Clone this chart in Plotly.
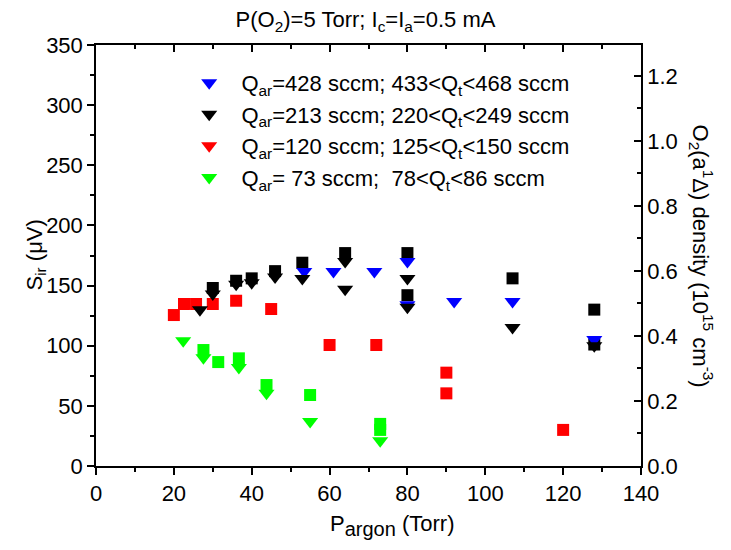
import plotly.graph_objects as go

# S_ir signal (squares, left axis) and O2(a1Δ) density (triangles, right axis)
# versus argon pressure, for four argon flow rates.

blue_tri_p = [53.5, 61, 71.5, 80, 80, 92, 107, 128]
blue_tri_n = [0.598, 0.598, 0.598, 0.629, 0.496, 0.506, 0.506, 0.389]

black_tri_p = [26.7, 30, 36, 40, 46, 53, 64, 64, 80, 80, 107, 128]
black_tri_n = [0.481, 0.529, 0.559, 0.564, 0.581, 0.577, 0.629, 0.544, 0.577, 0.488, 0.426, 0.370]
black_sq_p = [30, 36, 40, 46, 53, 64, 80, 80, 107, 128, 128]
black_sq_s = [148, 154, 156, 162, 169, 177, 177, 142, 156, 130, 101]

red_sq_p = [20, 22.6, 25.7, 30, 36, 45, 60, 72, 90, 90, 120]
red_sq_s = [125.5, 134.7, 134.7, 134.7, 137.4, 130.5, 100.6, 100.6, 77.6, 60.4, 30]

green_tri_p = [22.4, 27.6, 36.7, 43.8, 55, 73]
green_tri_n = [0.385, 0.333, 0.303, 0.224, 0.137, 0.078]
green_sq_p = [27.6, 31.4, 36.7, 43.8, 55, 73, 73]
green_sq_s = [96.4, 86.4, 89.5, 67.3, 59, 35, 30]

legend_names = [
    "Q<sub>ar</sub>=428 sccm; 433&lt;Q<sub>t</sub>&lt;468 sccm",
    "Q<sub>ar</sub>=213 sccm; 220&lt;Q<sub>t</sub>&lt;249 sccm",
    "Q<sub>ar</sub>=120 sccm; 125&lt;Q<sub>t</sub>&lt;150 sccm",
    "Q<sub>ar</sub>= 73 sccm;  78&lt;Q<sub>t</sub>&lt;86 sccm",
]

BLUE, BLACK, RED, GREEN = "#0000ff", "#000000", "#ff0000", "#00ff00"
Y2_MAX = 1.295
FS = 22

fig = go.Figure()

def squares(x, y, color):
    fig.add_trace(go.Scatter(x=x, y=y, mode="markers", showlegend=False,
                             marker=dict(symbol="square", size=12, color=color,
                                         line=dict(width=0))))

def triangles(x, y, color, name):
    fig.add_trace(go.Scatter(x=x, y=y, yaxis="y2", mode="markers",
                             name="&nbsp;&nbsp;" + name,
                             marker=dict(symbol="triangle-down", size=14, color=color,
                                         line=dict(width=0))))

squares(black_sq_p, black_sq_s, BLACK)
squares(red_sq_p, red_sq_s, RED)
squares(green_sq_p, green_sq_s, GREEN)

triangles(blue_tri_p, blue_tri_n, BLUE, legend_names[0])
triangles(black_tri_p, black_tri_n, BLACK, legend_names[1])
# the 120 sccm series has no density points; a null point keeps its legend entry
triangles([None], [None], RED, legend_names[2])
triangles(green_tri_p, green_tri_n, GREEN, legend_names[3])

# a dummy trace so the top mirror axis exists
fig.add_trace(go.Scatter(x=[None], y=[None], xaxis="x2", showlegend=False))

font = "Liberation Sans, Arial, sans-serif"
axis_common = dict(showgrid=False, zeroline=False, showline=True, linecolor="black",
                   linewidth=1.5, tickcolor="black", tickwidth=1.5,
                   tickfont=dict(family=font, size=FS, color="black"))
minor_in = dict(ticks="inside", ticklen=4, tickcolor="black", tickwidth=1.5)
minor_out = dict(ticks="outside", ticklen=4, tickcolor="black", tickwidth=1.5)

fig.update_layout(
    width=731, height=550,
    margin=dict(l=96, r=90, t=45, b=84),
    paper_bgcolor="white", plot_bgcolor="white",
    font=dict(family=font, color="black"),
    title=dict(text="P(O<sub>2</sub>)=5 Torr; I<sub>c</sub>=I<sub>a</sub>=0.5 mA",
               x=0.5, xanchor="center", y=0.965, yanchor="middle",
               font=dict(size=FS, family=font, color="black")),
    xaxis=dict(range=[0, 140], tickvals=list(range(0, 141, 20)), ticks="outside",
               ticklen=7, minor=dict(dtick=10, **minor_out), **axis_common),
    xaxis2=dict(range=[0, 140], overlaying="x", side="top", tickvals=list(range(0, 141, 20)),
                ticks="inside", ticklen=7, showticklabels=False,
                minor=dict(dtick=10, **minor_in), **axis_common),
    yaxis=dict(range=[0, 350], tickvals=list(range(0, 351, 50)), ticks="outside",
               ticklen=7, minor=dict(dtick=25, **minor_out), **axis_common),
    yaxis2=dict(range=[0, Y2_MAX], overlaying="y", side="right",
                tickvals=[0, 0.2, 0.4, 0.6, 0.8, 1.0, 1.2],
                ticktext=["0.0", "0.2", "0.4", "0.6", "0.8", "1.0", "1.2"],
                ticks="inside", ticklen=7,
                minor=dict(dtick=0.1, **minor_in), **axis_common),
    legend=dict(x=0.171, y=0.96, xanchor="left", yanchor="top",
                bgcolor="rgba(0,0,0,0)", font=dict(size=FS, family=font, color="black"),
                tracegroupgap=0, itemwidth=30),
    annotations=[
        dict(text="P<sub><span style='font-size:20px'>argon</span></sub> (Torr)",
             xref="paper", yref="paper",
             x=(392 - 96) / 545, y=-59 / 421, xanchor="center", yanchor="middle",
             showarrow=False, font=dict(size=FS, family=font, color="black")),
        dict(text="S<sub>ir</sub> (μV)", xref="paper", yref="paper",
             x=-61 / 545, y=0.5, xanchor="center", yanchor="middle", textangle=-90,
             showarrow=False, font=dict(size=FS, family=font, color="black")),
        dict(text="O<sub>2</sub>(a<sup>1</sup>Δ) density (10<sup>15</sup> cm<sup>-3</sup>)",
             xref="paper", yref="paper", x=1.0 + 60 / 545, y=0.5,
             xanchor="center", yanchor="middle", textangle=90, showarrow=False,
             font=dict(size=FS, family=font, color="black")),
    ],
)

fig.write_html("out.html")
